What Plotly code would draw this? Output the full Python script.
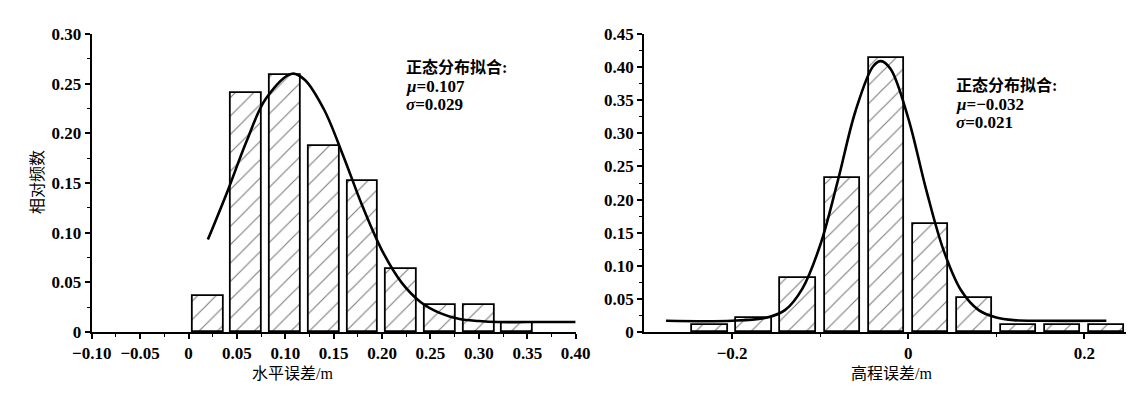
import plotly.graph_objects as go

# ---- data: left (horizontal error) ----
h_centers = [0.02, 0.06, 0.10, 0.14, 0.18, 0.22, 0.26, 0.30, 0.34]
h_freq = [0.036, 0.241, 0.259, 0.1875, 0.152, 0.063, 0.0275, 0.0275, 0.009]
h_curve_x = [0.02, 0.04, 0.06, 0.08, 0.107, 0.12, 0.14, 0.16, 0.18, 0.20, 0.22, 0.24, 0.26, 0.28, 0.30, 0.32, 0.35, 0.40]
h_curve_y = [0.093, 0.141, 0.192, 0.235, 0.260, 0.254, 0.224, 0.177, 0.126, 0.082, 0.050, 0.030, 0.019, 0.013, 0.011, 0.010, 0.010, 0.010]
h_xticks = [-0.10, -0.05, 0, 0.05, 0.10, 0.15, 0.20, 0.25, 0.30, 0.35, 0.40]
h_xlabels = ["−0.10", "−0.05", "0", "0.05", "0.10", "0.15", "0.20", "0.25", "0.30", "0.35", "0.40"]
h_yticks = [0, 0.05, 0.10, 0.15, 0.20, 0.25, 0.30]
h_ylabels = ["0", "0.05", "0.10", "0.15", "0.20", "0.25", "0.30"]

# ---- data: right (elevation error) ----
v_centers = [-0.225, -0.175, -0.125, -0.075, -0.025, 0.025, 0.075, 0.125, 0.175, 0.225]
v_freq = [0.011, 0.021, 0.082, 0.233, 0.414, 0.163, 0.051, 0.011, 0.011, 0.011]
v_curve_x = [-0.275, -0.20, -0.16, -0.14, -0.12, -0.10, -0.08, -0.06, -0.04, -0.031, -0.02, 0.00, 0.02, 0.04, 0.06, 0.08, 0.10, 0.12, 0.15, 0.225]
v_curve_y = [0.017, 0.017, 0.022, 0.033, 0.066, 0.131, 0.228, 0.333, 0.401, 0.409, 0.397, 0.323, 0.217, 0.124, 0.063, 0.033, 0.022, 0.018, 0.017, 0.017]
v_xticks = [-0.2, 0, 0.2]
v_xlabels = ["−0.2", "0", "0.2"]
v_yticks = [0, 0.05, 0.10, 0.15, 0.20, 0.25, 0.30, 0.35, 0.40, 0.45]
v_ylabels = ["0", "0.05", "0.10", "0.15", "0.20", "0.25", "0.30", "0.35", "0.40", "0.45"]

FONT = "Liberation Serif, Times New Roman, Noto Sans CJK SC, serif"
pattern = dict(shape="/", fgcolor="black", bgcolor="white", size=13, solidity=0.09)

W, H = 1136, 388   # page body adds 8px margin

fig = go.Figure()
fig.add_trace(go.Bar(x=h_centers, y=h_freq, width=0.032, xaxis="x", yaxis="y",
                     marker=dict(color="white", line=dict(color="black", width=1.8), pattern=pattern),
                     showlegend=False))
fig.add_trace(go.Scatter(x=h_curve_x, y=h_curve_y, mode="lines", xaxis="x", yaxis="y",
                         line=dict(color="black", width=2.6, shape="spline"), showlegend=False))
fig.add_trace(go.Bar(x=v_centers, y=v_freq, width=0.04, xaxis="x2", yaxis="y2",
                     marker=dict(color="white", line=dict(color="black", width=1.8), pattern=pattern),
                     showlegend=False))
fig.add_trace(go.Scatter(x=v_curve_x, y=v_curve_y, mode="lines", xaxis="x2", yaxis="y2",
                         line=dict(color="black", width=2.6, shape="spline"), showlegend=False))

tickfont = dict(family=FONT, size=17, color="black", weight="bold")
axis_common = dict(showgrid=False, zeroline=False, showline=True, linecolor="black", linewidth=2,
                   ticks="outside", tickcolor="black", tickwidth=1.5, ticklen=5,
                   tickfont=tickfont, tickmode="array", automargin=False)
minor_style = dict(ticks="outside", ticklen=3, tickcolor="black", tickwidth=1.2, tickmode="array")

fig.update_layout(
    width=W, height=H,
    margin=dict(l=0, r=0, t=26, b=64),
    paper_bgcolor="white", plot_bgcolor="white",
    bargap=0,
    xaxis=dict(domain=[0.0737, 0.4997], range=[-0.10, 0.40], tickvals=h_xticks, ticktext=h_xlabels,
               anchor="y",
               minor=dict(tickvals=[-0.075, -0.025, 0.025, 0.075, 0.125, 0.175, 0.225, 0.275, 0.325, 0.375],
                          **minor_style),
               **axis_common),
    yaxis=dict(domain=[0, 1], range=[0, 0.30], tickvals=h_yticks, ticktext=h_ylabels, anchor="x",
               minor=dict(tickvals=[0.025, 0.075, 0.125, 0.175, 0.225, 0.275], **minor_style),
               **axis_common),
    xaxis2=dict(domain=[0.5599, 0.9839], range=[-0.30, 0.247], tickvals=v_xticks, ticktext=v_xlabels,
                anchor="y2",
                minor=dict(tickvals=[-0.1, 0.1], **minor_style),
                **axis_common),
    yaxis2=dict(domain=[0, 1], range=[0, 0.45], tickvals=v_yticks, ticktext=v_ylabels, anchor="x2",
                minor=dict(tickvals=[0.025, 0.075, 0.125, 0.175, 0.225, 0.275, 0.325, 0.375, 0.425],
                           **minor_style),
                **axis_common),
)

def px_x(X):
    return (X - 8) / W

def px_y(Y):
    return (332 - Y) / 298

def ann(text, X, Y, size=16, xanchor="left", angle=0, weight="bold"):
    fig.add_annotation(text=text, xref="paper", yref="paper", x=px_x(X), y=px_y(Y), showarrow=False,
                       xanchor=xanchor, yanchor="middle", textangle=angle,
                       font=dict(family=FONT, size=size, color="black", weight=weight))

# axis titles
ann("水平误差/m", 292, 373, xanchor="center", weight="normal")
ann("高程误差/m", 891, 373, xanchor="center", weight="normal")
ann("相对频数", 38, 182, xanchor="center", angle=-90, weight="normal")

# fit annotations
ann("正态分布拟合:", 404, 67)
ann("<i>μ</i>=0.107", 404, 86, size=17)
ann("<i>σ</i>=0.029", 404, 104, size=17)
ann("正态分布拟合:", 954, 85)
ann("<i>μ</i>=−0.032", 954, 104, size=17)
ann("<i>σ</i>=0.021", 954, 122, size=17)

fig.write_html("out.html")
